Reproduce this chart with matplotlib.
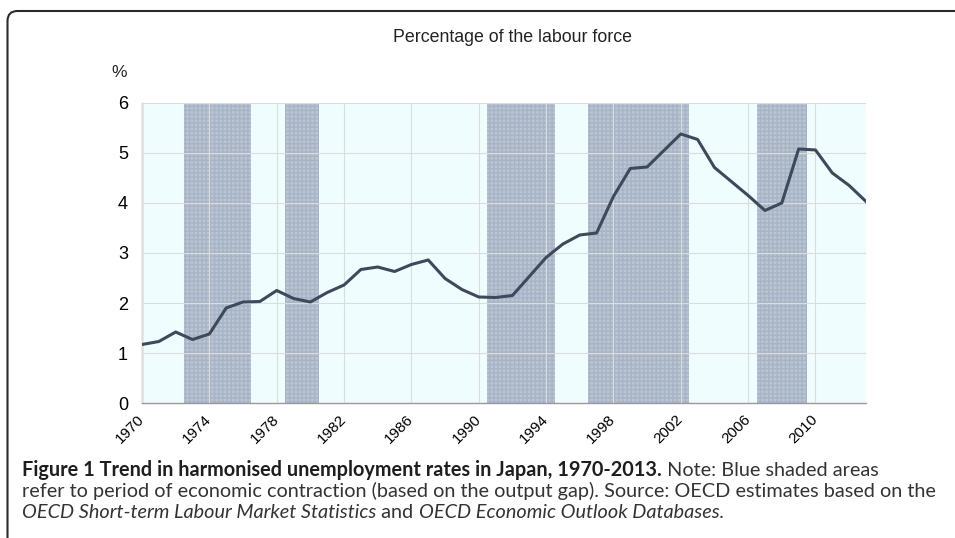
import numpy as np
import matplotlib.pyplot as plt
from matplotlib.patches import FancyBboxPatch
from matplotlib.transforms import IdentityTransform

# dane: stopa bezrobocia w Japonii (%)
years = np.arange(1970, 2014)
rate = [1.17, 1.23, 1.42, 1.27, 1.38, 1.90, 2.02, 2.03, 2.25, 2.09,
        2.02, 2.21, 2.36, 2.67, 2.72, 2.63, 2.77, 2.86, 2.49, 2.27,
        2.12, 2.11, 2.15, 2.53, 2.91, 3.18, 3.36, 3.40, 4.13, 4.69,
        4.72, 5.05, 5.38, 5.27, 4.71, 4.43, 4.15, 3.85, 4.00, 5.08,
        5.06, 4.60, 4.35, 4.03]

# okresy recesji (luka popytowa)
contraction_start = [1972.5, 1978.5, 1990.5, 1996.5, 2006.5]
contraction_end = [1976.5, 1980.5, 1994.5, 2002.5, 2009.5]

tick_years = list(range(1970, 2011, 4))

fig = plt.figure(figsize=(9.55, 5.38), dpi=100)
ax = fig.add_axes([0.1487, 0.2509, 0.7581, 0.5577])
ax.set_facecolor('#f0fdfe')

for s, e in zip(contraction_start, contraction_end):
    ax.axvspan(s, e, facecolor='#bac5d3', edgecolor='#a7b4c6', hatch='++++', lw=0, zorder=1)

ax.plot(years, rate, color='#3d4a5c', lw=2.2, zorder=3, solid_joinstyle='round')

ax.set_xlim(1970, 2013)
ax.set_ylim(0, 6)
ax.set_yticks(range(0, 7))
ax.set_xticks(tick_years)
ax.set_xticklabels([str(y) for y in tick_years], rotation=45, ha='right', va='center',
                   rotation_mode='anchor', fontsize=11, family='Liberation Sans')
ax.tick_params(axis='x', length=0, pad=10)
ax.tick_params(axis='y', length=0, labelsize=13, pad=10)
for lab in ax.get_yticklabels():
    lab.set_family('Liberation Sans')
ax.grid(True, color='#dcdcdc', lw=0.8, zorder=2)
ax.set_axisbelow(False)
for side in ['top', 'right']:
    ax.spines[side].set_visible(False)
for side in ['left', 'bottom']:
    ax.spines[side].set_color('#9a9a9a')
    ax.spines[side].set_linewidth(1)

fig.text(512 / 955, 1 - 38 / 538, 'Percentage of the labour force', ha='center', va='center',
         fontsize=12.8, family='Liberation Sans', color='#222222')
fig.text(119 / 955, 1 - 73 / 538, '%', ha='center', va='center',
         fontsize=12.5, family='Liberation Sans', color='#222222')

# ramka z zaokrąglonym rogiem
fig.patches.append(FancyBboxPatch((7.5, -30), 1000, 538 - 11 + 30,
                                  boxstyle='round,pad=0,rounding_size=10',
                                  transform=IdentityTransform(), fill=False,
                                  edgecolor='#2a2a2a', lw=1.5))

# podpis - kawałki tekstu w jednej linii bazowej
cf = 'Lato'
x0 = 22
line2 = 'refer to period of economic contraction (based on the output gap). Source: OECD estimates based on the'
t2 = fig.text(x0 / 955, 1 - 497 / 538, line2, fontsize=12, family=cf, va='baseline', color='#333333')
fig.canvas.draw()
r = fig.canvas.get_renderer()
fs = 12 * 910 / t2.get_window_extent(r).width
t2.set_fontsize(fs)


def caption_line(parts, ybase):
    x = x0
    for txt, kw in parts:
        opts = dict(fontsize=fs, family=cf, va='baseline', color='#333333')
        opts.update(kw)
        t = fig.text(x / 955, 1 - ybase / 538, txt, **opts)
        x += t.get_window_extent(r).width


caption_line([('Figure 1 Trend in harmonised unemployment rates in Japan, 1970-2013.',
               dict(weight='bold', color='#1e1e1e')),
              (' Note: Blue shaded areas', {})], 476)
caption_line([('OECD Short-term Labour Market Statistics', dict(style='italic')),
              (' and ', {}),
              ('OECD Economic Outlook Databases.', dict(style='italic'))], 518)

fig.savefig('out.png', dpi=100)
